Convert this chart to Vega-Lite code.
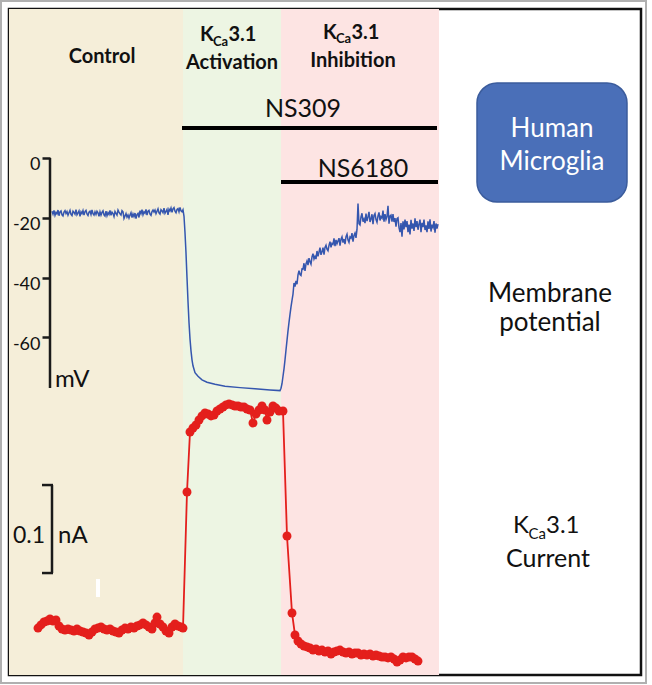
{
  "$schema": "https://vega.github.io/schema/vega-lite/v6.json",
  "width": 632,
  "height": 666,
  "autosize": {"type": "none"},
  "padding": {"left": 9, "top": 9, "right": 11, "bottom": 10},
  "background": "white",
  "config": {"view": {"stroke": "#111111", "strokeWidth": 2.5}, "font": "Lato"},
  "encoding": {
    "x": {"field": "t", "type": "quantitative", "scale": {"domain": [-174, 458], "nice": false, "zero": false}, "axis": null}
  },
  "layer": [
    {
      "data": {"values": [
        {"phase": "Control", "t": -174, "t2": 0},
        {"phase": "KCa3.1 Activation", "t": 0, "t2": 98},
        {"phase": "KCa3.1 Inhibition", "t": 98, "t2": 256}
      ]},
      "mark": {"type": "rect"},
      "encoding": {
        "x2": {"field": "t2"},
        "color": {"field": "phase", "type": "nominal", "scale": {"domain": ["Control", "KCa3.1 Activation", "KCa3.1 Inhibition"], "range": ["#f5eed9", "#edf5e3", "#fde4e3"]}, "legend": null}
      }
    },
    {
      "encoding": {
        "y": {"field": "mV", "type": "quantitative", "scale": {"domain": [-172.91, 49.83], "nice": false, "zero": false},
          "axis": {"orient": "left", "offset": -41, "zindex": 1, "values": [0, -20, -40, -60], "domain": false, "grid": false, "ticks": true, "tickSize": 8, "tickWidth": 2.5, "tickColor": "#1a1a1a", "labelFontSize": 18, "labelFont": "Lato", "labelColor": "#111111", "labelPadding": 2, "labelOffset": 7, "labelOverlap": false, "labelFlush": false, "labelExpr": "'' + datum.value", "title": null}}
      },
      "layer": [
        {
          "data": {"values": [{"t": -182, "t2": 463, "mV": 52.51, "mV2": -175.59}]},
          "mark": {"type": "rect", "filled": false, "stroke": "#b0b0b0", "strokeWidth": 2, "clip": false},
          "encoding": {"x2": {"field": "t2"}, "y2": {"field": "mV2"}}
        },
        {
          "data": {"name": "potential"},
          "mark": {"type": "line", "color": "#3556ae", "strokeWidth": 1.5},
          "encoding": {}
        },
        {
          "data": {"values": [{"t": -133, "mV": 0, "mV2": -76.92}]},
          "mark": {"type": "rule", "color": "#1a1a1a", "strokeWidth": 2.5},
          "encoding": {"y2": {"field": "mV2"}}
        },
        {
          "data": {"values": [
            {"drug": "NS309", "t": -1, "t2": 254, "mV": 10.03},
            {"drug": "NS6180", "t": 98, "t2": 255, "mV": -8.03}
          ]},
          "mark": {"type": "rule", "color": "#000000", "strokeWidth": 4},
          "encoding": {"x2": {"field": "t2"}}
        },
        {
          "data": {"values": [{"t": 294, "t2": 444, "mV": 25.08, "mV2": -14.72}]},
          "mark": {"type": "rect", "color": "#4a6fb8", "stroke": "#3b5c9c", "strokeWidth": 1.5, "cornerRadius": 20},
          "encoding": {"x2": {"field": "t2"}, "y2": {"field": "mV2"}}
        },
        {
          "data": {"values": [
            {"label": "Control", "t": -81, "mV": 31.77},
            {"label": "Activation", "t": 49, "mV": 29.77},
            {"label": "Inhibition", "t": 170, "mV": 30.43}
          ]},
          "mark": {"type": "text", "fontWeight": "bold", "fontSize": 20, "align": "center", "baseline": "alphabetic", "color": "#111111"},
          "encoding": {"text": {"field": "label"}}
        },
        {
          "data": {"values": [
            {"label": "K", "t": 17, "mV": 39.13},
            {"label": "3.1", "t": 45.5, "mV": 39.13},
            {"label": "K", "t": 140, "mV": 39.8},
            {"label": "3.1", "t": 168.5, "mV": 39.8}
          ]},
          "mark": {"type": "text", "fontWeight": "bold", "fontSize": 20, "align": "left", "baseline": "alphabetic", "color": "#111111"},
          "encoding": {"text": {"field": "label"}}
        },
        {
          "data": {"values": [
            {"label": "Ca", "t": 30, "mV": 37.6},
            {"label": "Ca", "t": 153, "mV": 38.3}
          ]},
          "mark": {"type": "text", "fontWeight": "bold", "fontSize": 13, "align": "left", "baseline": "alphabetic", "color": "#111111"},
          "encoding": {"text": {"field": "label"}}
        },
        {
          "data": {"values": [
            {"label": "NS309", "t": 120, "mV": 13.71},
            {"label": "NS6180", "t": 180, "mV": -6.35}
          ]},
          "mark": {"type": "text", "fontSize": 25, "align": "center", "baseline": "alphabetic", "color": "#111111"},
          "encoding": {"text": {"field": "label"}}
        },
        {
          "data": {"values": [
            {"label": "Human", "t": 369, "mV": 7.02},
            {"label": "Microglia", "t": 369, "mV": -4.01}
          ]},
          "mark": {"type": "text", "fontSize": 26, "align": "center", "baseline": "alphabetic", "color": "#ffffff"},
          "encoding": {"text": {"field": "label"}}
        },
        {
          "data": {"values": [
            {"label": "Membrane", "t": 367, "mV": -48.16},
            {"label": "potential", "t": 367, "mV": -57.86}
          ]},
          "mark": {"type": "text", "fontSize": 26, "align": "center", "baseline": "alphabetic", "color": "#111111"},
          "encoding": {"text": {"field": "label"}}
        },
        {
          "data": {"values": [{"label": "mV", "t": -128, "mV": -76.59}]},
          "mark": {"type": "text", "fontSize": 24, "align": "left", "baseline": "alphabetic", "color": "#111111"},
          "encoding": {"text": {"field": "label"}}
        }
      ]
    },
    {
      "encoding": {
        "y": {"field": "nA", "type": "quantitative", "scale": {"domain": [-0.011364, 0.745455], "nice": false, "zero": false}, "axis": null}
      },
      "layer": [
        {
          "data": {"name": "current"},
          "mark": {"type": "line", "color": "#e41f1c", "strokeWidth": 1.8},
          "encoding": {}
        },
        {
          "data": {"name": "current"},
          "mark": {"type": "point", "filled": true, "opacity": 1, "size": 80, "color": "#e41f1c"},
          "encoding": {}
        },
        {
          "data": {"values": [{"t": -131, "nA": 0.2045, "nA2": 0.1045}]},
          "mark": {"type": "rule", "color": "#1a1a1a", "strokeWidth": 2.5},
          "encoding": {"y2": {"field": "nA2"}}
        },
        {
          "data": {"values": [{"t": -141, "t2": -130, "nA": 0.2045}, {"t": -141, "t2": -130, "nA": 0.1045}]},
          "mark": {"type": "rule", "color": "#1a1a1a", "strokeWidth": 2.5},
          "encoding": {"x2": {"field": "t2"}}
        },
        {
          "data": {"values": [{"t": -85, "nA": 0.0977, "nA2": 0.0773}]},
          "mark": {"type": "rule", "color": "#ffffff", "strokeWidth": 4},
          "encoding": {"y2": {"field": "nA2"}}
        },
        {
          "data": {"values": [{"label": "0.1", "t": -138, "nA": 0.1386}]},
          "mark": {"type": "text", "fontSize": 23, "align": "right", "baseline": "alphabetic", "color": "#111111"},
          "encoding": {"text": {"field": "label"}}
        },
        {
          "data": {"values": [
            {"label": "nA", "t": -125, "nA": 0.1386},
            {"label": "K", "t": 330, "nA": 0.15},
            {"label": "3.1", "t": 363, "nA": 0.15}
          ]},
          "mark": {"type": "text", "fontSize": 24, "align": "left", "baseline": "alphabetic", "color": "#111111"},
          "encoding": {"text": {"field": "label"}}
        },
        {
          "data": {"values": [{"label": "Ca", "t": 345.5, "nA": 0.1432}]},
          "mark": {"type": "text", "fontSize": 15, "align": "left", "baseline": "alphabetic", "color": "#111111"},
          "encoding": {"text": {"field": "label"}}
        },
        {
          "data": {"values": [{"label": "Current", "t": 365, "nA": 0.1114}]},
          "mark": {"type": "text", "fontSize": 25, "align": "center", "baseline": "alphabetic", "color": "#111111"},
          "encoding": {"text": {"field": "label"}}
        }
      ]
    }
  ],
  "resolve": {"scale": {"y": "independent"}, "axis": {"y": "independent"}},
  "datasets": {
    "potential": [
      {"t": -131, "mV": -17.8}, {"t": -130, "mV": -18.8}, {"t": -129, "mV": -17.5}, {"t": -128, "mV": -19.2},
      {"t": -127, "mV": -18.2}, {"t": -126, "mV": -18.7}, {"t": -125, "mV": -17.4}, {"t": -124, "mV": -19.3},
      {"t": -123, "mV": -18.0}, {"t": -122, "mV": -17.7}, {"t": -121, "mV": -19.0}, {"t": -120, "mV": -19.4},
      {"t": -119, "mV": -18.1}, {"t": -118, "mV": -17.6}, {"t": -117, "mV": -18.6}, {"t": -116, "mV": -17.9},
      {"t": -115, "mV": -19.1}, {"t": -114, "mV": -18.3}, {"t": -113, "mV": -17.5}, {"t": -112, "mV": -18.9},
      {"t": -111, "mV": -19.3}, {"t": -110, "mV": -17.8}, {"t": -109, "mV": -18.2}, {"t": -108, "mV": -18.8},
      {"t": -107, "mV": -17.3}, {"t": -106, "mV": -19.0}, {"t": -105, "mV": -18.4}, {"t": -104, "mV": -17.7},
      {"t": -103, "mV": -19.5}, {"t": -102, "mV": -18.0}, {"t": -101, "mV": -18.6}, {"t": -100, "mV": -17.6},
      {"t": -99, "mV": -19.1}, {"t": -98, "mV": -17.9}, {"t": -97, "mV": -17.5}, {"t": -96, "mV": -18.7},
      {"t": -95, "mV": -19.2}, {"t": -94, "mV": -18.1}, {"t": -93, "mV": -17.8}, {"t": -92, "mV": -18.9},
      {"t": -91, "mV": -17.4}, {"t": -90, "mV": -18.6}, {"t": -89, "mV": -19.1}, {"t": -88, "mV": -18.0},
      {"t": -87, "mV": -18.9}, {"t": -86, "mV": -17.8}, {"t": -85, "mV": -18.3}, {"t": -84, "mV": -19.5},
      {"t": -83, "mV": -18.0}, {"t": -82, "mV": -19.1}, {"t": -81, "mV": -18.2}, {"t": -80, "mV": -17.7},
      {"t": -79, "mV": -19.0}, {"t": -78, "mV": -19.4}, {"t": -77, "mV": -17.8}, {"t": -76, "mV": -19.3},
      {"t": -75, "mV": -18.3}, {"t": -74, "mV": -18.9}, {"t": -73, "mV": -17.5}, {"t": -72, "mV": -19.2},
      {"t": -71, "mV": -18.1}, {"t": -70, "mV": -18.6}, {"t": -69, "mV": -19.6}, {"t": -68, "mV": -17.9},
      {"t": -67, "mV": -18.5}, {"t": -66, "mV": -19.1}, {"t": -65, "mV": -17.4}, {"t": -64, "mV": -18.1},
      {"t": -63, "mV": -18.7}, {"t": -62, "mV": -19.1}, {"t": -61, "mV": -17.6}, {"t": -60, "mV": -18.0},
      {"t": -59, "mV": -20.2}, {"t": -58, "mV": -19.4}, {"t": -57, "mV": -18.6}, {"t": -56, "mV": -19.8},
      {"t": -55, "mV": -19.1}, {"t": -54, "mV": -20.1}, {"t": -53, "mV": -19.1}, {"t": -52, "mV": -18.3},
      {"t": -51, "mV": -19.9}, {"t": -50, "mV": -18.7}, {"t": -49, "mV": -19.6}, {"t": -48, "mV": -18.4},
      {"t": -47, "mV": -20.3}, {"t": -46, "mV": -18.9}, {"t": -45, "mV": -18.5}, {"t": -44, "mV": -19.9},
      {"t": -43, "mV": -17.6}, {"t": -42, "mV": -18.6}, {"t": -41, "mV": -17.3}, {"t": -40, "mV": -19.0},
      {"t": -39, "mV": -18.0}, {"t": -38, "mV": -18.5}, {"t": -37, "mV": -17.2}, {"t": -36, "mV": -19.1},
      {"t": -35, "mV": -17.8}, {"t": -34, "mV": -17.5}, {"t": -33, "mV": -18.8}, {"t": -32, "mV": -19.2},
      {"t": -31, "mV": -17.9}, {"t": -30, "mV": -17.4}, {"t": -29, "mV": -18.1}, {"t": -28, "mV": -17.4},
      {"t": -27, "mV": -18.6}, {"t": -26, "mV": -17.8}, {"t": -25, "mV": -17.0}, {"t": -24, "mV": -18.4},
      {"t": -23, "mV": -18.8}, {"t": -22, "mV": -17.3}, {"t": -21, "mV": -17.7}, {"t": -20, "mV": -18.3},
      {"t": -19, "mV": -16.8}, {"t": -18, "mV": -18.5}, {"t": -17, "mV": -17.9}, {"t": -16, "mV": -17.2},
      {"t": -15, "mV": -19.0}, {"t": -14, "mV": -17.1}, {"t": -13, "mV": -17.7}, {"t": -12, "mV": -16.7},
      {"t": -11, "mV": -18.2}, {"t": -10, "mV": -17.0}, {"t": -9, "mV": -16.6}, {"t": -8, "mV": -17.8},
      {"t": -7, "mV": -18.3}, {"t": -6, "mV": -17.2}, {"t": -5, "mV": -16.9}, {"t": -4, "mV": -18.0},
      {"t": -3, "mV": -16.5}, {"t": -2, "mV": -17.7}, {"t": -1, "mV": -18.0}, {"t": 0, "mV": -17.3},
      {"t": 1, "mV": -19.5}, {"t": 2, "mV": -25.0}, {"t": 3, "mV": -31.8}, {"t": 4, "mV": -40.0},
      {"t": 5, "mV": -48.0}, {"t": 6, "mV": -55.0}, {"t": 7, "mV": -60.5}, {"t": 8, "mV": -64.5},
      {"t": 9, "mV": -67.5}, {"t": 10, "mV": -69.5}, {"t": 12, "mV": -71.8}, {"t": 15, "mV": -73.0},
      {"t": 19, "mV": -74.2}, {"t": 24, "mV": -75.0}, {"t": 32, "mV": -75.7}, {"t": 42, "mV": -76.3},
      {"t": 57, "mV": -76.8}, {"t": 72, "mV": -77.2}, {"t": 87, "mV": -77.6}, {"t": 97, "mV": -77.8},
      {"t": 98, "mV": -77.0}, {"t": 99, "mV": -75.5}, {"t": 100, "mV": -73.0}, {"t": 101, "mV": -70.5},
      {"t": 102, "mV": -67.5}, {"t": 103, "mV": -64.2}, {"t": 104, "mV": -61.0}, {"t": 105, "mV": -57.8},
      {"t": 106, "mV": -55.0}, {"t": 107, "mV": -52.3}, {"t": 108, "mV": -49.8}, {"t": 109, "mV": -47.6},
      {"t": 110, "mV": -45.5},
      {"t": 111, "mV": -41.8}, {"t": 112, "mV": -43.0}, {"t": 113, "mV": -41.1}, {"t": 114, "mV": -42.2},
      {"t": 115, "mV": -39.1}, {"t": 116, "mV": -37.7}, {"t": 117, "mV": -39.0}, {"t": 118, "mV": -39.3},
      {"t": 119, "mV": -37.1}, {"t": 120, "mV": -37.2}, {"t": 121, "mV": -35.2}, {"t": 122, "mV": -37.8},
      {"t": 123, "mV": -35.4}, {"t": 124, "mV": -34.4}, {"t": 125, "mV": -35.8}, {"t": 126, "mV": -33.5},
      {"t": 127, "mV": -34.7}, {"t": 128, "mV": -35.5}, {"t": 129, "mV": -33.1}, {"t": 130, "mV": -32.0},
      {"t": 131, "mV": -33.8}, {"t": 132, "mV": -32.9}, {"t": 133, "mV": -33.8}, {"t": 134, "mV": -31.1},
      {"t": 135, "mV": -32.9}, {"t": 136, "mV": -31.5}, {"t": 137, "mV": -30.0}, {"t": 138, "mV": -32.4},
      {"t": 139, "mV": -31.4}, {"t": 140, "mV": -30.0}, {"t": 141, "mV": -32.3}, {"t": 142, "mV": -29.9},
      {"t": 143, "mV": -29.2}, {"t": 144, "mV": -30.5}, {"t": 145, "mV": -31.0}, {"t": 146, "mV": -29.2},
      {"t": 147, "mV": -28.0}, {"t": 148, "mV": -29.9}, {"t": 149, "mV": -28.6}, {"t": 150, "mV": -28.9},
      {"t": 151, "mV": -26.9}, {"t": 152, "mV": -29.5}, {"t": 153, "mV": -27.4}, {"t": 154, "mV": -28.7},
      {"t": 155, "mV": -27.8}, {"t": 156, "mV": -26.8}, {"t": 157, "mV": -29.3}, {"t": 158, "mV": -27.2},
      {"t": 159, "mV": -26.4}, {"t": 160, "mV": -28.3}, {"t": 161, "mV": -27.1}, {"t": 162, "mV": -28.8},
      {"t": 163, "mV": -26.3}, {"t": 164, "mV": -25.5}, {"t": 165, "mV": -27.4}, {"t": 166, "mV": -28.2},
      {"t": 167, "mV": -26.4}, {"t": 168, "mV": -26.8}, {"t": 169, "mV": -25.1}, {"t": 170, "mV": -28.0},
      {"t": 171, "mV": -25.9}, {"t": 172, "mV": -25.1}, {"t": 173, "mV": -26.7}, {"t": 174, "mV": -23.9},
      {"t": 175, "mV": -15.2}, {"t": 176, "mV": -22.0}, {"t": 177, "mV": -22.4}, {"t": 178, "mV": -19.7},
      {"t": 179, "mV": -18.5}, {"t": 180, "mV": -21.3}, {"t": 181, "mV": -20.4}, {"t": 182, "mV": -21.8},
      {"t": 183, "mV": -18.6}, {"t": 184, "mV": -21.1}, {"t": 185, "mV": -19.7}, {"t": 186, "mV": -18.0},
      {"t": 187, "mV": -21.4}, {"t": 188, "mV": -20.4}, {"t": 189, "mV": -18.8}, {"t": 190, "mV": -22.1},
      {"t": 191, "mV": -19.2}, {"t": 192, "mV": -18.6}, {"t": 193, "mV": -20.6}, {"t": 194, "mV": -21.5},
      {"t": 195, "mV": -19.4}, {"t": 196, "mV": -18.2}, {"t": 197, "mV": -20.9}, {"t": 198, "mV": -19.6},
      {"t": 199, "mV": -20.1}, {"t": 200, "mV": -17.6}, {"t": 201, "mV": -21.3}, {"t": 202, "mV": -18.8},
      {"t": 203, "mV": -20.6}, {"t": 204, "mV": -19.6}, {"t": 205, "mV": -16.0}, {"t": 206, "mV": -22.0},
      {"t": 207, "mV": -19.4}, {"t": 208, "mV": -19.1}, {"t": 209, "mV": -21.3}, {"t": 210, "mV": -18.8},
      {"t": 211, "mV": -21.4}, {"t": 212, "mV": -20.1}, {"t": 213, "mV": -23.0}, {"t": 214, "mV": -20.3},
      {"t": 215, "mV": -20.0}, {"t": 216, "mV": -23.3}, {"t": 217, "mV": -24.8}, {"t": 218, "mV": -21.8},
      {"t": 219, "mV": -26.3}, {"t": 220, "mV": -21.2}, {"t": 221, "mV": -23.9}, {"t": 222, "mV": -20.6},
      {"t": 223, "mV": -23.1}, {"t": 224, "mV": -21.1}, {"t": 225, "mV": -24.8}, {"t": 226, "mV": -22.3},
      {"t": 227, "mV": -25.6}, {"t": 228, "mV": -20.7}, {"t": 229, "mV": -23.6}, {"t": 230, "mV": -21.9},
      {"t": 231, "mV": -24.4}, {"t": 232, "mV": -20.2}, {"t": 233, "mV": -23.1}, {"t": 234, "mV": -21.1},
      {"t": 235, "mV": -24.0}, {"t": 236, "mV": -22.1}, {"t": 237, "mV": -20.6}, {"t": 238, "mV": -24.8},
      {"t": 239, "mV": -21.7}, {"t": 240, "mV": -23.1}, {"t": 241, "mV": -20.6}, {"t": 242, "mV": -24.1},
      {"t": 243, "mV": -22.5}, {"t": 244, "mV": -24.8}, {"t": 245, "mV": -21.2}, {"t": 246, "mV": -23.7},
      {"t": 247, "mV": -20.5}, {"t": 248, "mV": -24.6}, {"t": 249, "mV": -22.3}, {"t": 250, "mV": -23.2},
      {"t": 251, "mV": -21.1}, {"t": 252, "mV": -25.0}, {"t": 253, "mV": -21.9}, {"t": 254, "mV": -23.6},
      {"t": 255, "mV": -22.1}
    ],
    "current": [
      {"t": -145, "nA": 0.0420}, {"t": -142, "nA": 0.0455}, {"t": -139, "nA": 0.0489}, {"t": -136, "nA": 0.0500},
      {"t": -133, "nA": 0.0523}, {"t": -130, "nA": 0.0500}, {"t": -127, "nA": 0.0511}, {"t": -124, "nA": 0.0443},
      {"t": -121, "nA": 0.0409}, {"t": -118, "nA": 0.0398}, {"t": -115, "nA": 0.0409}, {"t": -112, "nA": 0.0398},
      {"t": -109, "nA": 0.0386}, {"t": -106, "nA": 0.0409}, {"t": -103, "nA": 0.0386}, {"t": -100, "nA": 0.0375},
      {"t": -97, "nA": 0.0364}, {"t": -94, "nA": 0.0341}, {"t": -91, "nA": 0.0375}, {"t": -88, "nA": 0.0409},
      {"t": -85, "nA": 0.0420}, {"t": -82, "nA": 0.0432}, {"t": -79, "nA": 0.0409}, {"t": -76, "nA": 0.0398},
      {"t": -73, "nA": 0.0409}, {"t": -70, "nA": 0.0386}, {"t": -67, "nA": 0.0375}, {"t": -64, "nA": 0.0364},
      {"t": -61, "nA": 0.0398}, {"t": -58, "nA": 0.0420}, {"t": -55, "nA": 0.0409}, {"t": -52, "nA": 0.0432},
      {"t": -49, "nA": 0.0420}, {"t": -46, "nA": 0.0443}, {"t": -43, "nA": 0.0455}, {"t": -40, "nA": 0.0477},
      {"t": -37, "nA": 0.0455}, {"t": -34, "nA": 0.0432}, {"t": -31, "nA": 0.0409}, {"t": -28, "nA": 0.0477},
      {"t": -26, "nA": 0.0545}, {"t": -23, "nA": 0.0466}, {"t": -20, "nA": 0.0432}, {"t": -17, "nA": 0.0386},
      {"t": -14, "nA": 0.0364}, {"t": -11, "nA": 0.0432}, {"t": -8, "nA": 0.0466}, {"t": -5, "nA": 0.0443},
      {"t": -2, "nA": 0.0432}, {"t": 0, "nA": 0.0420},
      {"t": 4, "nA": 0.1966}, {"t": 7, "nA": 0.2648}, {"t": 10, "nA": 0.2693}, {"t": 13, "nA": 0.2727},
      {"t": 16, "nA": 0.2784}, {"t": 19, "nA": 0.2830}, {"t": 22, "nA": 0.2864}, {"t": 25, "nA": 0.2852},
      {"t": 28, "nA": 0.2830}, {"t": 31, "nA": 0.2841}, {"t": 34, "nA": 0.2886}, {"t": 37, "nA": 0.2909},
      {"t": 40, "nA": 0.2932}, {"t": 43, "nA": 0.2955}, {"t": 46, "nA": 0.2966}, {"t": 49, "nA": 0.2955},
      {"t": 52, "nA": 0.2943}, {"t": 55, "nA": 0.2943}, {"t": 58, "nA": 0.2932}, {"t": 61, "nA": 0.2932},
      {"t": 64, "nA": 0.2909}, {"t": 67, "nA": 0.2898}, {"t": 70, "nA": 0.2750}, {"t": 73, "nA": 0.2852},
      {"t": 76, "nA": 0.2898}, {"t": 79, "nA": 0.2943}, {"t": 82, "nA": 0.2898}, {"t": 84, "nA": 0.2784},
      {"t": 87, "nA": 0.2875}, {"t": 90, "nA": 0.2943}, {"t": 93, "nA": 0.2920}, {"t": 96, "nA": 0.2886},
      {"t": 100, "nA": 0.2886},
      {"t": 104, "nA": 0.1466}, {"t": 109, "nA": 0.0591}, {"t": 112, "nA": 0.0341}, {"t": 115, "nA": 0.0273},
      {"t": 118, "nA": 0.0239}, {"t": 121, "nA": 0.0216}, {"t": 124, "nA": 0.0205}, {"t": 127, "nA": 0.0193},
      {"t": 130, "nA": 0.0170}, {"t": 133, "nA": 0.0182}, {"t": 136, "nA": 0.0159}, {"t": 139, "nA": 0.0170},
      {"t": 142, "nA": 0.0148}, {"t": 145, "nA": 0.0159}, {"t": 148, "nA": 0.0125}, {"t": 151, "nA": 0.0148},
      {"t": 154, "nA": 0.0159}, {"t": 157, "nA": 0.0170}, {"t": 160, "nA": 0.0148}, {"t": 163, "nA": 0.0136},
      {"t": 166, "nA": 0.0148}, {"t": 169, "nA": 0.0125}, {"t": 172, "nA": 0.0136}, {"t": 175, "nA": 0.0136},
      {"t": 178, "nA": 0.0114}, {"t": 181, "nA": 0.0125}, {"t": 184, "nA": 0.0114}, {"t": 187, "nA": 0.0125},
      {"t": 190, "nA": 0.0102}, {"t": 193, "nA": 0.0114}, {"t": 196, "nA": 0.0102}, {"t": 199, "nA": 0.0091},
      {"t": 202, "nA": 0.0091}, {"t": 205, "nA": 0.0080}, {"t": 208, "nA": 0.0091}, {"t": 211, "nA": 0.0068},
      {"t": 214, "nA": 0.0034}, {"t": 217, "nA": 0.0057}, {"t": 220, "nA": 0.0091}, {"t": 223, "nA": 0.0080},
      {"t": 226, "nA": 0.0091}, {"t": 229, "nA": 0.0091}, {"t": 232, "nA": 0.0068}, {"t": 235, "nA": 0.0045}
    ]
  }
}
